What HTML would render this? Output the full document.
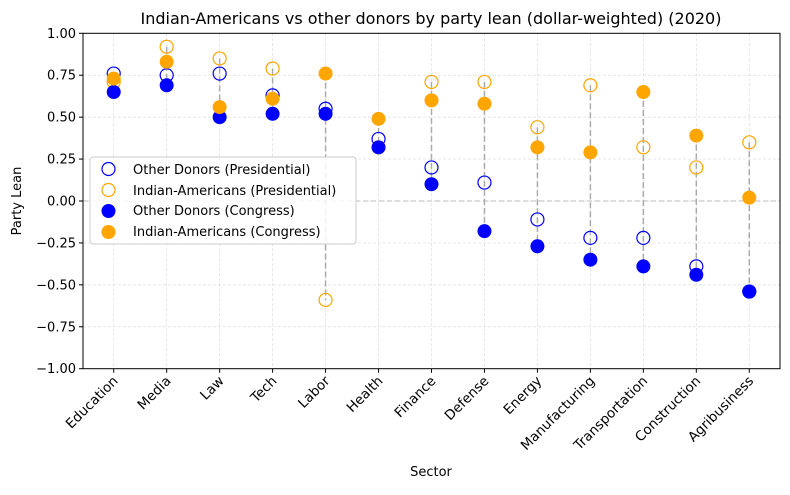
<!DOCTYPE html>
<html><head><meta charset="utf-8"><style>
body{margin:0;background:#fff;font-family:"Liberation Sans","DejaVu Sans",sans-serif;}
text{font-family:"DejaVu Sans","Liberation Sans",sans-serif;}
</style></head><body>
<svg id="chart" width="790" height="490" xmlns="http://www.w3.org/2000/svg">
<rect width="790" height="490" fill="#fff"/>
<g id="grid"></g>
<g id="lines"></g>
<g id="marks"></g>
<rect x="83" y="33.3" width="697" height="335.4" fill="none" stroke="#000" stroke-width="1"/>
<g id="axes"></g>
<text x="431" y="24" text-anchor="middle" font-size="16">Indian-Americans vs other donors by party lean (dollar-weighted) (2020)</text>
<text x="431" y="476" text-anchor="middle" font-size="13">Sector</text>
<text transform="translate(21,201) rotate(-90)" text-anchor="middle" font-size="13">Party Lean</text>
<g>
<rect x="90" y="157" width="266" height="87" rx="3" fill="#fff" fill-opacity="0.85" stroke="#ccc"/>
<circle cx="108.5" cy="169" r="6.5" fill="none" stroke="#0000ff" stroke-width="1.2"/>
<text x="133" y="174" font-size="13">Other Donors (Presidential)</text>
<circle cx="108.5" cy="190" r="6.5" fill="none" stroke="#ffa500" stroke-width="1.2"/>
<text x="133" y="195" font-size="13">Indian-Americans (Presidential)</text>
<circle cx="108.5" cy="211" r="7" fill="#0000ff"/>
<text x="133" y="215" font-size="13">Other Donors (Congress)</text>
<circle cx="108.5" cy="232" r="7" fill="#ffa500"/>
<text x="133" y="236" font-size="13">Indian-Americans (Congress)</text>
</g>
</svg>
<script>
const categories=["Education","Media","Law","Tech","Labor","Health","Finance","Defense","Energy","Manufacturing","Transportation","Construction","Agribusiness"];
const otherPres=[0.76,0.75,0.76,0.63,0.55,0.37,0.20,0.11,-0.11,-0.22,-0.22,-0.39,-0.54];
const indianPres=[0.71,0.92,0.85,0.79,-0.59,0.32,0.71,0.71,0.44,0.69,0.32,0.20,0.35];
const otherCong=[0.65,0.69,0.50,0.52,0.52,0.32,0.10,-0.18,-0.27,-0.35,-0.39,-0.44,-0.54];
const indianCong=[0.73,0.83,0.56,0.61,0.76,0.49,0.60,0.58,0.32,0.29,0.65,0.39,0.02];
const yTicks=[-1,-0.75,-0.5,-0.25,0,0.25,0.5,0.75,1];
const yTickLabels=["−1.00","−0.75","−0.50","−0.25","0.00","0.25","0.50","0.75","1.00"];
const NS="http://www.w3.org/2000/svg";
const L=83,R=780,T=33.3,B=368.7;
const x=i=>L+(i+0.58)/13.16*(R-L);
const y=v=>B-(v+1)/2*(B-T);
function mk(tag,attrs,parent){const e=document.createElementNS(NS,tag);for(const k in attrs)e.setAttribute(k,attrs[k]);document.getElementById(parent).appendChild(e);return e;}
yTicks.forEach((v,i)=>{
 const g=mk('line',{x1:L,x2:R,y1:y(v),y2:y(v),stroke:'#ddd','stroke-dasharray':'3,2','stroke-width':0.7},'grid');
 
 
 const t=mk('line',{x1:L-4,x2:L,y1:y(v),y2:y(v),stroke:'#000'},'axes');
 
 
 const tx=mk('text',{x:L-7,y:y(v)+4.5,'text-anchor':'end','font-size':13},'axes');
 tx.textContent=yTickLabels[i];
 
 
});
const z=mk('line',{x1:L,x2:R,y1:y(0),y2:y(0),stroke:'#bbb','stroke-dasharray':'5,3','stroke-width':1},'grid');


categories.forEach((c,i)=>{
 const g=mk('line',{x1:x(i),x2:x(i),y1:T,y2:B,stroke:'#ddd','stroke-dasharray':'3,2','stroke-width':0.7},'grid');
 
 
 const t=mk('line',{x1:x(i),x2:x(i),y1:B,y2:B+4,stroke:'#000'},'axes');
 
 
 const tx=mk('text',{x:0,y:0,'text-anchor':'end','font-size':13.5,transform:`translate(${x(i)+5},${B+13}) rotate(-45)`},'axes');
 tx.textContent=c;
 
 
 const vals=[otherPres[i],indianPres[i],otherCong[i],indianCong[i]];
 const ln=mk('line',{x1:x(i),x2:x(i),y1:y(Math.max(...vals)),y2:y(Math.min(...vals)),stroke:'#999','stroke-dasharray':'6,3','stroke-width':1.5,opacity:0.8},'lines');
 
 
});
function series(arr,name,fill,stroke){
 arr.forEach((v,i)=>{
  const c=mk('circle',{cx:x(i),cy:y(v),r:fill==='none'?6.5:7,fill:fill,stroke:stroke,'stroke-width':1.2},'marks');
  
  
 });
}
series(otherPres,'other-pres-point','none','#0000ff');
series(indianPres,'indian-pres-point','none','#ffa500');
series(otherCong,'other-cong-point','#0000ff','none');
series(indianCong,'indian-cong-point','#ffa500','none');
</script>
</body></html>
